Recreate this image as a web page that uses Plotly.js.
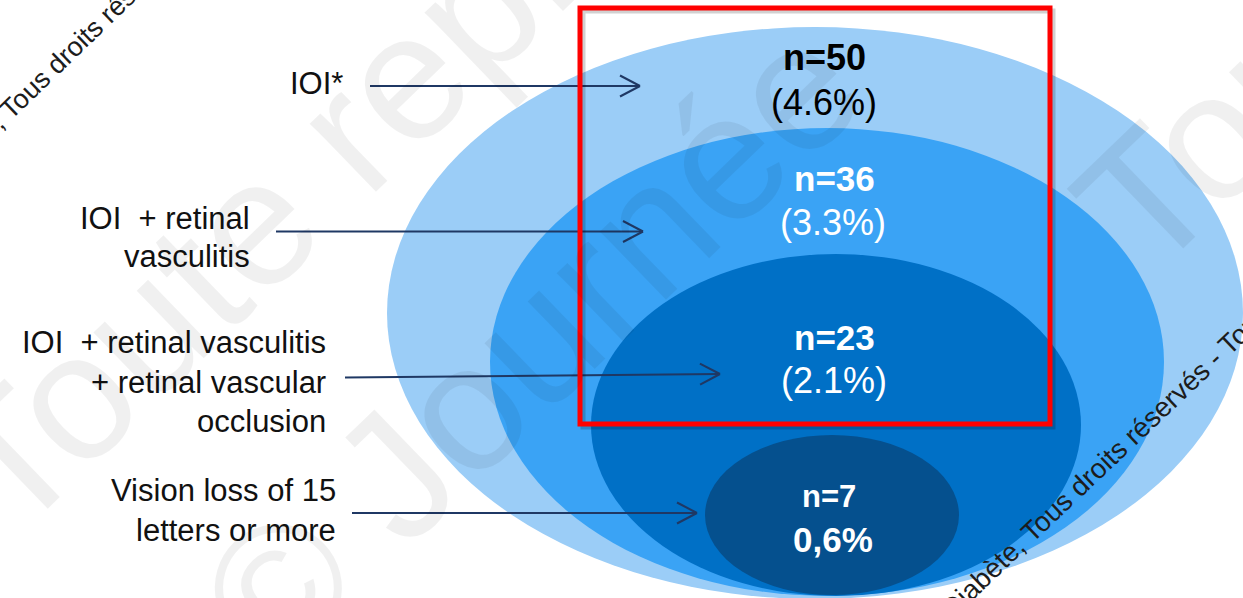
<!DOCTYPE html>
<html>
<head>
<meta charset="utf-8">
<script src="https://cdn.plot.ly/plotly-3.0.1.min.js"></script>
<style>
  html, body { margin: 0; padding: 0; background: #ffffff; }
  #chart { width: 1243px; height: 598px; }
</style>
</head>
<body>
<div id="chart"></div>
<script>
// Nested subgroups, outermost to innermost
const groupLabels = [
  'IOI*',
  'IOI  + retinal\nvasculitis',
  'IOI  + retinal vasculitis\n+ retinal vascular\nocclusion',
  'Vision loss of 15\nletters or more'
];
const counts = [50, 36, 23, 7];
const percentLabels = ['(4.6%)', '(3.3%)', '(2.1%)', '0,6%'];

// Copyright lines printed across the slide
const copyrightSmall = 'Diabète, Tous droits réservés - Toute';
const copyrightLarge = ['Toute reproduction', '© Journée', 'Toute reproduction'];

// ---- drawing geometry (pixel space: x 0..1243, y 0..598 downward) ----
const W = 1243, H = 598;
const FONT = 'Liberation Sans, Arial, Helvetica, sans-serif';

const ellipses = [
  { cx: 815, cy: 313, rx: 428, ry: 286, fill: '#9BCDF7' },
  { cx: 827, cy: 362, rx: 337, ry: 234, fill: '#3AA3F5' },
  { cx: 836, cy: 425, rx: 245, ry: 171, fill: '#0070C6' },
  { cx: 832, cy: 515, rx: 127, ry: 80,  fill: '#05508E' }
];
const labelRight = [345, 252, 328, 338];
const labelBaselines = [[94], [229, 267], [353, 393, 432], [501, 541]];
const labelSize = 31;

const arrows = [
  [370, 86, 640, 86],
  [276, 231.5, 643, 231.5],
  [345, 377.5, 720, 374],
  [352, 513, 697, 513]
];
const arrowColor = '#1F3864';

const countPos = [[824, 57.5], [834, 178], [834, 337], [829, 496]];
const countSize = [36, 35, 35, 31];
const pctPos = [[824, 102], [833, 222], [834, 380], [833, 539]];
const pctSize = [36, 36, 36, 35];
const textColors = ['#000000', '#ffffff', '#ffffff', '#ffffff'];
const pctBold = [false, false, false, true];

const shapes = [];
const annotations = [];

// ellipses
ellipses.forEach(e => {
  shapes.push({
    type: 'circle', xref: 'x', yref: 'y',
    x0: e.cx - e.rx, x1: e.cx + e.rx, y0: e.cy - e.ry, y1: e.cy + e.ry,
    fillcolor: e.fill, line: { width: 0 }, layer: 'above'
  });
});

// arrows with open chevron heads
arrows.forEach(a => {
  const [x0, y0, x1, y1] = a;
  shapes.push({ type: 'line', xref: 'x', yref: 'y', x0, y0, x1, y1,
    line: { color: arrowColor, width: 2 } });
  const len = Math.hypot(x1 - x0, y1 - y0);
  const ux = (x1 - x0) / len, uy = (y1 - y0) / len;
  const back = 20, half = 10.5;
  [-1, 1].forEach(s => {
    shapes.push({ type: 'line', xref: 'x', yref: 'y',
      x0: x1 - back * ux - s * half * uy, y0: y1 - back * uy + s * half * ux,
      x1: x1, y1: y1, line: { color: arrowColor, width: 2 } });
  });
});

// highlight frame with soft shadow
shapes.push({ type: 'rect', xref: 'x', yref: 'y', x0: 583, x1: 1053, y0: 11, y1: 427,
  line: { color: 'rgba(0,0,0,0.18)', width: 5 }, fillcolor: 'rgba(0,0,0,0)' });
shapes.push({ type: 'rect', xref: 'x', yref: 'y', x0: 580, x1: 1050, y0: 8, y1: 424,
  line: { color: '#FF0000', width: 5 }, fillcolor: 'rgba(0,0,0,0)' });

// group labels on the left, right-aligned, one annotation per line
groupLabels.forEach((lab, i) => {
  lab.split('\n').forEach((line, j) => {
    annotations.push({
      xref: 'x', yref: 'y', x: labelRight[i], y: labelBaselines[i][j] - 0.3465 * labelSize,
      xanchor: 'right', yanchor: 'middle', showarrow: false,
      text: line, font: { family: FONT, size: labelSize, color: '#111111' }
    });
  });
});

// counts and percentages inside the ellipses
counts.forEach((n, i) => {
  annotations.push({
    xref: 'x', yref: 'y', x: countPos[i][0], y: countPos[i][1],
    xanchor: 'center', yanchor: 'middle', showarrow: false,
    text: '<b>n=' + n + '</b>',
    font: { family: FONT, size: countSize[i], color: textColors[i] }
  });
  annotations.push({
    xref: 'x', yref: 'y', x: pctPos[i][0], y: pctPos[i][1],
    xanchor: 'center', yanchor: 'middle', showarrow: false,
    text: pctBold[i] ? '<b>' + percentLabels[i] + '</b>' : percentLabels[i],
    font: { family: FONT, size: pctSize[i], color: textColors[i] }
  });
});

// rotated copyright text (paper coordinates so it may run off the page)
function addRotated(text, cx, cy, angle, size, color) {
  annotations.push({
    xref: 'paper', yref: 'paper', x: cx / W, y: 1 - cy / H,
    xanchor: 'center', yanchor: 'middle', showarrow: false,
    textangle: -angle, text: text,
    font: { family: FONT, size: size, color: color }
  });
}
const faint = 'rgba(0,0,0,0.06)';
addRotated(copyrightLarge[0], 507, -21, 44, 180, faint);
addRotated(copyrightLarge[1], 530, 345, 44, 180, faint);
addRotated(copyrightLarge[2], 1642, -282, 44, 180, faint);
addRotated(copyrightSmall, 85.8, 36.3, 44, 27, '#1c1c1c');
addRotated(copyrightSmall, 1109.4, 457.9, 43.5, 27.7, '#1c1c1c');

const layout = {
  width: W, height: H,
  margin: { l: 0, r: 0, t: 0, b: 0, pad: 0 },
  paper_bgcolor: '#ffffff', plot_bgcolor: '#ffffff',
  showlegend: false,
  xaxis: { range: [0, W], visible: false, fixedrange: true },
  yaxis: { range: [H, 0], visible: false, fixedrange: true },
  shapes: shapes,
  annotations: annotations
};

const traces = [{ type: 'scatter', mode: 'markers', x: [], y: [], hoverinfo: 'skip' }];

Plotly.newPlot('chart', traces, layout, { staticPlot: true, displayModeBar: false });
</script>
</body>
</html>
